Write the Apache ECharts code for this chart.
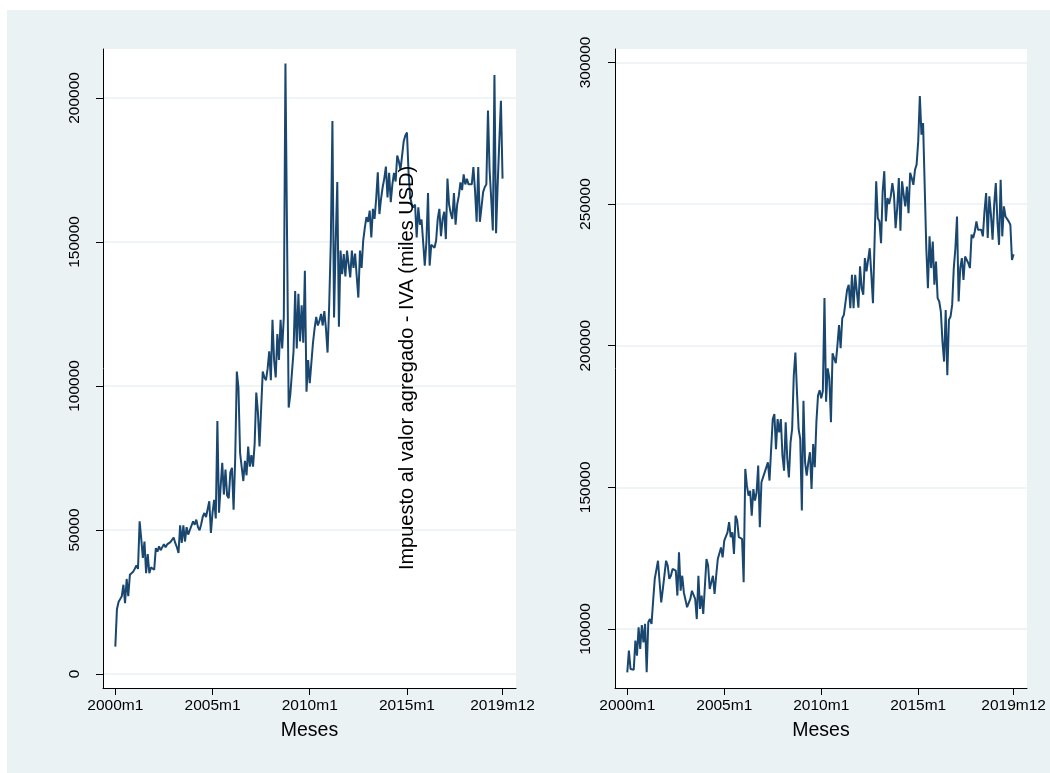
<!DOCTYPE html>
<html>
<head>
<meta charset="utf-8">
<script src="https://cdn.jsdelivr.net/npm/echarts@6/dist/echarts.min.js"></script>
<style>
  html, body { margin: 0; padding: 0; background: #ffffff; }
  #chart { position: absolute; left: 7px; top: 10px; width: 1043px; height: 763px; }
</style>
</head>
<body>
<div id="chart"></div>
<script>
// Monthly values, 2000m1 .. 2019m12 (index 0 .. 239)
const leftValues = [
  9500, 22500, 25000, 26000, 27000, 31000, 24600, 33000, 27000, 34500, 35000, 35500,
  36500, 37700, 36500, 53000, 47000, 40300, 46000, 35000, 41600, 35000, 37000, 37000,
  36200, 43700, 42500, 44300, 43000, 43500, 45100, 44000, 45000, 44900, 45800, 45500,
  47400, 45500, 44000, 42000, 51600, 45500, 51600, 46000, 51000, 48400, 50000, 49500,
  53000, 51800, 53600, 51000, 49900, 52000, 54700, 55900, 54500, 54000, 60000, 49000,
  56000, 60500, 54000, 87800, 56000, 65000, 73300, 62300, 71000, 62000, 61000, 70000,
  71600, 57000, 75000, 105000, 99400, 76800, 77000, 67000, 74000, 69000, 79000, 72000,
  76000, 72000, 80000, 97700, 91000, 79000, 92000, 105000, 103000, 102000, 106000, 112000,
  102000, 123000, 109000, 103000, 118000, 109000, 123000, 113000, 124000, 212000, 152000, 92500,
  97000, 97000, 112000, 133000, 113000, 132000, 115500, 128000, 115000, 140000, 98000, 109000,
  101000, 108000, 115000, 120000, 124000, 121000, 122600, 125000, 121000, 126000, 120000, 111600,
  128000, 150000, 192000, 123800, 150000, 170800, 120600, 147000, 138800, 145800, 138000, 147000,
  147500, 137700, 147000, 141000, 146000, 138000, 130700, 147000, 141000, 150500, 155000, 158600,
  157000, 160900, 151600, 161500, 158000, 165000, 174200, 159700, 165000, 169000, 172000, 176200,
  165500, 174000, 163800, 170000, 174000, 171000, 180000, 178000, 175000, 180000, 185000, 187000,
  188000, 174000, 165500, 163000, 162000, 163000, 151600, 162000, 156000, 157800, 150000, 141800,
  150000, 167000, 141800, 149000, 149300, 148000, 150500, 158000, 161500, 152000, 158000, 160500,
  151000, 172000, 163000, 160000, 158000, 167000, 156000, 163000, 166000, 170700, 168000, 173500,
  170000, 171900, 170000, 170000, 170000, 176000, 168000, 157000, 176000, 157000, 162000, 167300,
  169000, 170000, 195600, 175000, 165000, 154000, 208000, 153000, 170000, 185000, 199000, 172000
];
const rightValues = [
  84700, 92400, 85900, 86500, 85600, 95900, 90600, 100600, 93000, 101400, 95300, 101800,
  84700, 102400, 103500, 101800, 110000, 117700, 117700, 124100, 116500, 109400, 114100, 114700,
  124100, 122400, 117700, 118800, 121200, 121800, 120600, 111800, 127100, 113500, 118800, 112900,
  112900, 107700, 108300, 110600, 113500, 112900, 110600, 103500, 118800, 107100, 111800, 105300,
  104700, 124700, 122400, 114100, 116500, 118800, 112400, 118800, 124700, 125300, 128800, 125300,
  131200, 130600, 134100, 137700, 132400, 134100, 126500, 140000, 138300, 132400, 133000, 131800,
  116500, 156500, 150600, 147100, 148800, 140000, 149400, 145300, 148200, 157700, 135900, 151800,
  152400, 155300, 154700, 158800, 152400, 163500, 174100, 175900, 163500, 174100, 169400, 174100,
  161200, 155900, 173000, 160000, 153500, 165900, 170600, 189400, 197600, 183500, 170600, 167100,
  141800, 180600, 158800, 154100, 158800, 162400, 149400, 165300, 157100, 173000, 182400, 184300,
  181400, 184000, 216800, 180200, 192000, 188500, 173000, 197300, 196700, 193800, 200000, 207300,
  199100, 209700, 210900, 210300, 219700, 221500, 213200, 225000, 213200, 225000, 225600, 213400,
  228000, 220300, 218000, 230900, 226200, 226800, 234400, 225000, 215000, 236800, 258000, 245000,
  243900, 236200, 254500, 261600, 243900, 252100, 250000, 252700, 257400, 253300, 241500, 248600,
  259200, 240600, 258000, 253300, 249200, 256200, 246800, 261000, 259200, 256800, 262100, 263900,
  272200, 288100, 274500, 278600, 278000, 234400, 220300, 238600, 227400, 236800, 221500, 229700,
  216800, 215600, 212000, 201400, 194400, 212600, 189600, 209100, 210300, 214400, 227400, 234400,
  245600, 215600, 227400, 230900, 223200, 231500, 230900, 229100, 227400, 239200, 238000, 240300,
  243900, 240900, 241500, 240900, 238600, 247400, 253900, 238000, 252700, 246200, 237400, 249800,
  257400, 243900, 235600, 258600, 238600, 249200, 245600, 245000, 243900, 242700, 230300, 232300
];
// x-axis ticks (month index) and their labels
const xTickMonths = [0, 60, 120, 180, 239];
const xTickLabels = ['2000m1', '2005m1', '2010m1', '2015m1', '2019m12'];
const leftYTicks = [0, 50000, 100000, 150000, 200000];
const rightYTicks = [100000, 150000, 200000, 250000, 300000];
const xTitle = 'Meses';
const yTitle = 'Impuesto al valor agregado - IVA (miles USD)';

const FONT = 'Liberation Sans, Arial, Helvetica, sans-serif';
const NAVY = '#1A476F';
const BG = '#EAF2F3';

function toPairs(arr) { return arr.map((v, i) => [i, v]); }

function xAxisCfg(gridIndex) {
  return {
    type: 'value', gridIndex: gridIndex, min: -7.6, max: 247.3,
    axisLine: { show: true, onZero: false, lineStyle: { color: '#000', width: 1 } },
    axisTick: { show: true, length: 7, customValues: xTickMonths, lineStyle: { color: '#000', width: 1 } },
    axisLabel: {
      customValues: xTickMonths, color: '#000', fontSize: 15.5, fontFamily: FONT, margin: 10,
      formatter: function (v) { const k = xTickMonths.indexOf(Math.round(v)); return k >= 0 ? xTickLabels[k] : ''; }
    },
    splitLine: { show: false },
    name: xTitle, nameLocation: 'middle', nameGap: 33,
    nameTextStyle: { color: '#000', fontSize: 19.5, fontFamily: FONT }
  };
}
function yAxisCfg(gridIndex, min, max, ticks, margin) {
  return {
    type: 'value', gridIndex: gridIndex, min: min, max: max,
    axisLine: { show: true, onZero: false, lineStyle: { color: '#000', width: 1 } },
    axisTick: { show: true, length: 7, customValues: ticks, lineStyle: { color: '#000', width: 1 } },
    axisLabel: {
      customValues: ticks, rotate: 90, color: '#000', fontSize: 15.5, fontFamily: FONT, margin: margin,
      formatter: function (v) { return String(Math.round(v)); }
    },
    splitLine: { show: true, lineStyle: { color: BG, width: 1.5 } }
  };
}

const chart = echarts.init(document.getElementById('chart'), null, { renderer: 'canvas' });
chart.setOption({
  animation: false,
  backgroundColor: BG,
  grid: [
    { left: 96, top: 39, width: 413, height: 639, show: true, backgroundColor: '#ffffff', borderWidth: 0 },
    { left: 608, top: 39, width: 412, height: 639, show: true, backgroundColor: '#ffffff', borderWidth: 0 }
  ],
  xAxis: [xAxisCfg(0), xAxisCfg(1)],
  yAxis: [
    yAxisCfg(0, -4860, 217000, leftYTicks, 20),
    yAxisCfg(1, 79170, 304730, rightYTicks, 21)
  ],
  series: [
    { type: 'line', xAxisIndex: 0, yAxisIndex: 0, data: toPairs(leftValues), showSymbol: false,
      lineStyle: { color: NAVY, width: 2 }, itemStyle: { color: NAVY } },
    { type: 'line', xAxisIndex: 1, yAxisIndex: 1, data: toPairs(rightValues), showSymbol: false,
      lineStyle: { color: NAVY, width: 2 }, itemStyle: { color: NAVY } }
  ],
  graphic: [
    { type: 'text', x: 400, y: 358, rotation: Math.PI / 2, z: 100,
      style: { text: yTitle, fill: '#000', fontSize: 20, fontFamily: FONT, align: 'center', verticalAlign: 'middle' } }
  ]
});
</script>
</body>
</html>
